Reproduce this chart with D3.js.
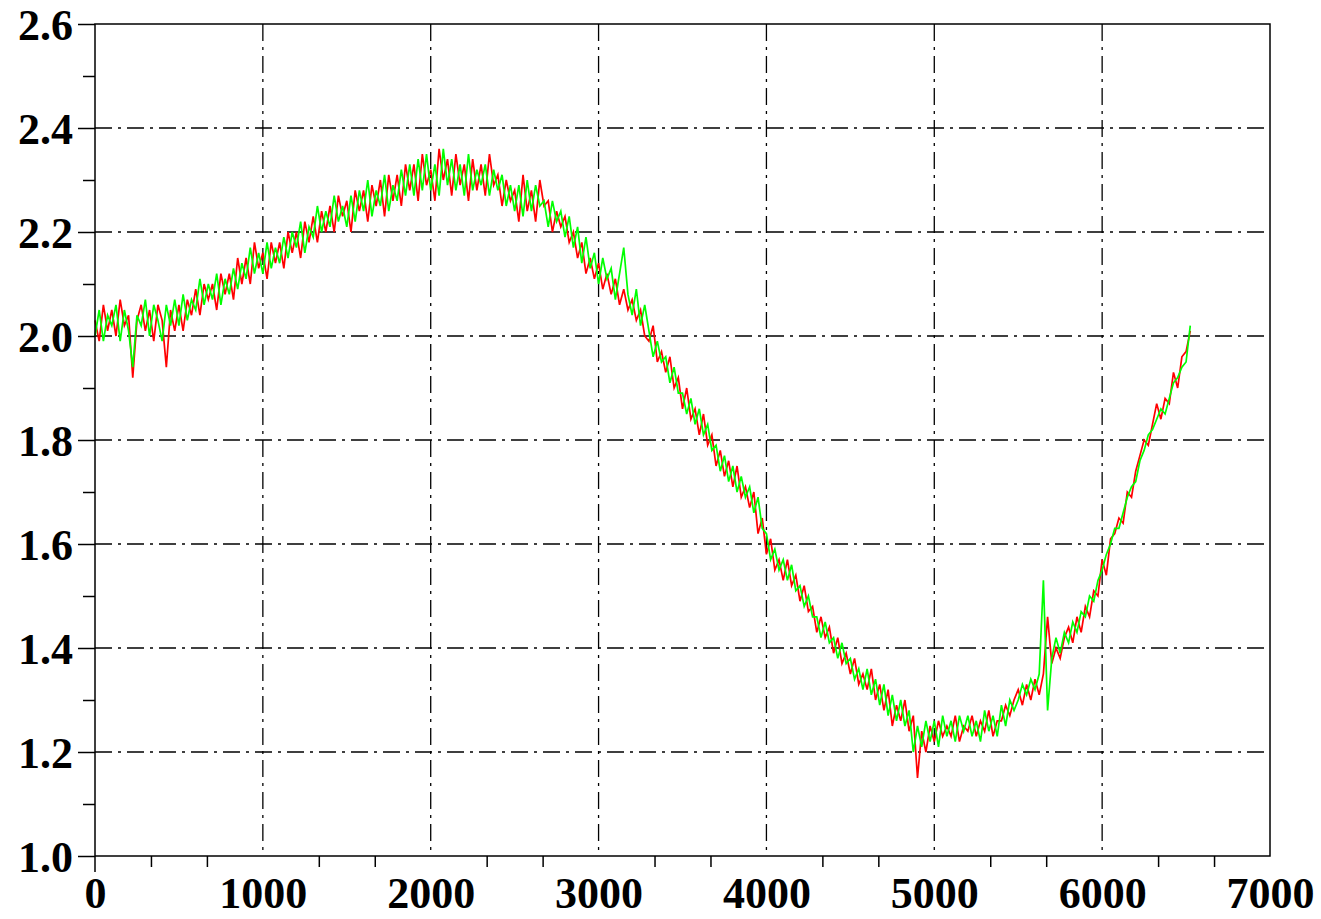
<!DOCTYPE html>
<html>
<head>
<meta charset="utf-8">
<script src="https://cdn.jsdelivr.net/npm/d3@7"></script>
<style>
  body { margin: 0; background: #fff; }
  svg text { font-family: "Liberation Serif", "Times New Roman", serif; font-weight: bold; font-size: 44px; fill: #000; }
</style>
</head>
<body>
<div id="chart"></div>
<script>
// samples every 25 units along x, starting at 0
var pas = 25;

var xTicks = [0, 1000, 2000, 3000, 4000, 5000, 6000, 7000];
var yTicks = [1.0, 1.2, 1.4, 1.6, 1.8, 2.0, 2.2, 2.4, 2.6];
var yMinor = [1.1, 1.3, 1.5, 1.7, 1.9, 2.1, 2.3, 2.5];

var rouge = [
  2.03, 1.99, 2.06, 2.01,  2.05, 2.00, 2.07, 2.02,  2.04, 1.92, 2.03, 2.06,  2.01, 2.05, 1.99, 2.06,
  2.03, 1.94, 2.05, 2.01,  2.06, 2.01, 2.07, 2.04,  2.09, 2.04, 2.10, 2.07,  2.10, 2.05, 2.12, 2.08,
  2.12, 2.07, 2.15, 2.10,  2.15, 2.10, 2.18, 2.13,  2.16, 2.11, 2.18, 2.14,  2.18, 2.13, 2.20, 2.16,
  2.20, 2.15, 2.22, 2.18,  2.23, 2.18, 2.24, 2.20,  2.25, 2.20, 2.27, 2.23,  2.26, 2.20, 2.28, 2.24,
  2.28, 2.22, 2.29, 2.25,  2.30, 2.23, 2.31, 2.26,  2.31, 2.25, 2.33, 2.28,  2.33, 2.26, 2.35, 2.29,
  2.32, 2.26, 2.36, 2.30,  2.34, 2.27, 2.35, 2.29,  2.33, 2.26, 2.34, 2.28,  2.33, 2.27, 2.35, 2.29,
  2.31, 2.25, 2.30, 2.26,  2.28, 2.22, 2.31, 2.24,  2.28, 2.22, 2.30, 2.25,  2.26, 2.20, 2.24, 2.21,
  2.23, 2.18, 2.20, 2.15,  2.18, 2.12, 2.15, 2.11,  2.14, 2.09, 2.12, 2.08,  2.11, 2.06, 2.09, 2.05,
  2.07, 2.03, 2.05, 2.00,  1.99, 2.02, 1.95, 1.97,  1.93, 1.96, 1.90, 1.92,  1.86, 1.90, 1.84, 1.86,
  1.81, 1.85, 1.79, 1.81,  1.75, 1.78, 1.73, 1.76,  1.71, 1.75, 1.69, 1.71,  1.67, 1.70, 1.62, 1.65,
  1.58, 1.61, 1.55, 1.57,  1.53, 1.57, 1.52, 1.54,  1.49, 1.52, 1.47, 1.48,  1.43, 1.46, 1.42, 1.44,
  1.39, 1.42, 1.37, 1.39,  1.35, 1.38, 1.33, 1.35,  1.32, 1.36, 1.30, 1.33,  1.28, 1.32, 1.25, 1.29,
  1.26, 1.30, 1.24, 1.27,  1.15, 1.24, 1.20, 1.25,  1.22, 1.26, 1.23, 1.25,  1.23, 1.27, 1.22, 1.25,
  1.24, 1.27, 1.23, 1.26,  1.24, 1.28, 1.23, 1.26,  1.26, 1.29, 1.27, 1.30,  1.32, 1.29, 1.33, 1.30,
  1.34, 1.31, 1.35, 1.46,  1.37, 1.40, 1.38, 1.42,  1.44, 1.41, 1.46, 1.43,  1.48, 1.46, 1.51, 1.50,
  1.57, 1.54, 1.61, 1.62,  1.65, 1.64, 1.70, 1.69,  1.74, 1.77, 1.80, 1.79,  1.83, 1.87, 1.84, 1.88,
  1.87, 1.93, 1.90, 1.96,  1.97, 2.01
];

var vert = [
  2.00, 2.05, 1.99, 2.04,  2.02, 2.06, 1.99, 2.05,  2.01, 1.94, 2.04, 2.02,  2.07, 2.00, 2.06, 2.03,
  1.99, 2.06, 2.02, 2.07,  2.02, 2.08, 2.03, 2.07,  2.05, 2.11, 2.06, 2.10,  2.07, 2.12, 2.06, 2.11,
  2.08, 2.13, 2.09, 2.14,  2.11, 2.17, 2.12, 2.16,  2.12, 2.18, 2.13, 2.17,  2.14, 2.19, 2.15, 2.20,
  2.17, 2.22, 2.16, 2.21,  2.19, 2.25, 2.20, 2.24,  2.21, 2.27, 2.22, 2.25,  2.21, 2.27, 2.22, 2.28,
  2.24, 2.30, 2.23, 2.28,  2.25, 2.31, 2.24, 2.29,  2.26, 2.32, 2.27, 2.33,  2.27, 2.34, 2.28, 2.35,
  2.28, 2.33, 2.27, 2.36,  2.29, 2.34, 2.28, 2.33,  2.27, 2.35, 2.28, 2.32,  2.29, 2.33, 2.27, 2.32,
  2.28, 2.31, 2.25, 2.29,  2.24, 2.29, 2.23, 2.30,  2.24, 2.29, 2.25, 2.26,  2.21, 2.26, 2.22, 2.24,
  2.19, 2.23, 2.17, 2.21,  2.14, 2.19, 2.13, 2.16,  2.10, 2.15, 2.11, 2.13,  2.07, 2.12, 2.17, 2.08,
  2.04, 2.09, 2.02, 2.06,  2.01, 1.96, 1.99, 1.95,  1.96, 1.91, 1.94, 1.89,  1.89, 1.85, 1.88, 1.83,
  1.86, 1.81, 1.83, 1.78,  1.79, 1.74, 1.77, 1.72,  1.75, 1.70, 1.73, 1.69,  1.71, 1.66, 1.69, 1.63,
  1.62, 1.57, 1.59, 1.55,  1.57, 1.53, 1.56, 1.51,  1.52, 1.48, 1.50, 1.46,  1.46, 1.42, 1.45, 1.41,
  1.42, 1.38, 1.41, 1.37,  1.38, 1.34, 1.36, 1.32,  1.36, 1.31, 1.34, 1.29,  1.33, 1.27, 1.31, 1.26,
  1.30, 1.25, 1.28, 1.20,  1.25, 1.21, 1.26, 1.22,  1.26, 1.21, 1.27, 1.23,  1.26, 1.22, 1.27, 1.24,
  1.27, 1.23, 1.26, 1.22,  1.28, 1.24, 1.27, 1.23,  1.29, 1.25, 1.30, 1.28,  1.30, 1.33, 1.31, 1.34,
  1.32, 1.35, 1.53, 1.28,  1.38, 1.42, 1.39, 1.43,  1.41, 1.45, 1.43, 1.47,  1.46, 1.50, 1.49, 1.53,
  1.55, 1.58, 1.60, 1.63,  1.63, 1.66, 1.69, 1.71,  1.72, 1.76, 1.78, 1.81,  1.82, 1.84, 1.86, 1.85,
  1.88, 1.91, 1.92, 1.94,  1.95, 2.02
];

var width = 1321, height = 919;
var gauche = 95, droite = 1270, haut = 24, bas = 856;

var svg = d3.select("#chart").append("svg").attr("width", width).attr("height", height);

var x = d3.scaleLinear().domain([0, 7000]).range([gauche, droite]);
var y = d3.scaleLinear().domain([1.0, 2.6]).range([bas, haut]);

// grille tiret-point
var grille = svg.append("g").attr("stroke", "#000").attr("stroke-width", 1.3).attr("stroke-dasharray", "17,6,3,6");
for (var v of xTicks.slice(1, -1)) {
  grille.append("line").attr("x1", x(v)).attr("x2", x(v)).attr("y1", haut).attr("y2", bas);
}
for (var w of yTicks.slice(1, -1)) {
  grille.append("line").attr("x1", gauche).attr("x2", droite).attr("y1", y(w)).attr("y2", y(w));
}

// courbes
var ligne = d3.line().x(function(d, i) { return x(i * pas); }).y(function(d) { return y(d); });
svg.append("path").datum(rouge).attr("d", ligne).attr("fill", "none").attr("stroke", "#ff0000").attr("stroke-width", 1.7);
svg.append("path").datum(vert).attr("d", ligne).attr("fill", "none").attr("stroke", "#00ff00").attr("stroke-width", 1.7);

// cadre
svg.append("rect").attr("x", gauche).attr("y", haut).attr("width", droite - gauche).attr("height", bas - haut)
  .attr("fill", "none").attr("stroke", "#000").attr("stroke-width", 1.5);
svg.append("line").attr("x1", gauche).attr("x2", gauche).attr("y1", bas).attr("y2", bas + 16)
  .attr("stroke", "#000").attr("stroke-width", 1.5);

// axe y
var axeY = svg.append("g").attr("transform", "translate(" + gauche + ",0)")
  .call(d3.axisLeft(y).tickValues(yTicks).tickSize(17).tickPadding(5).tickFormat(d3.format(".1f")));
axeY.select(".domain").remove();
axeY.selectAll("line").attr("stroke-width", 1.5);
axeY.selectAll("text").attr("dy", "0.36em").style("font-size", "44px").style("font-family", "'Liberation Serif', serif").style("font-weight", "bold");

var axeY2 = svg.append("g").attr("transform", "translate(" + gauche + ",0)")
  .call(d3.axisLeft(y).tickValues(yMinor).tickSize(12).tickFormat(""));
axeY2.select(".domain").remove();
axeY2.selectAll("line").attr("stroke-width", 1.5);

// axe x
var axeX = svg.append("g").attr("transform", "translate(0," + bas + ")")
  .call(d3.axisBottom(x).tickValues(xTicks).tickSize(0).tickPadding(21).tickFormat(d3.format("d")));
axeX.select(".domain").remove();
axeX.selectAll("text").style("font-size", "44px").style("font-family", "'Liberation Serif', serif").style("font-weight", "bold");

var xMinor = [];
for (var k = 0; k < xTicks.length - 1; k++) {
  xMinor.push(xTicks[k] + 1000 / 3, xTicks[k] + 2000 / 3);
}
var axeX2 = svg.append("g").attr("transform", "translate(0," + bas + ")")
  .call(d3.axisBottom(x).tickValues(xMinor).tickSize(11).tickFormat(""));
axeX2.select(".domain").remove();
axeX2.selectAll("line").attr("stroke-width", 1.5);
</script>
</body>
</html>
